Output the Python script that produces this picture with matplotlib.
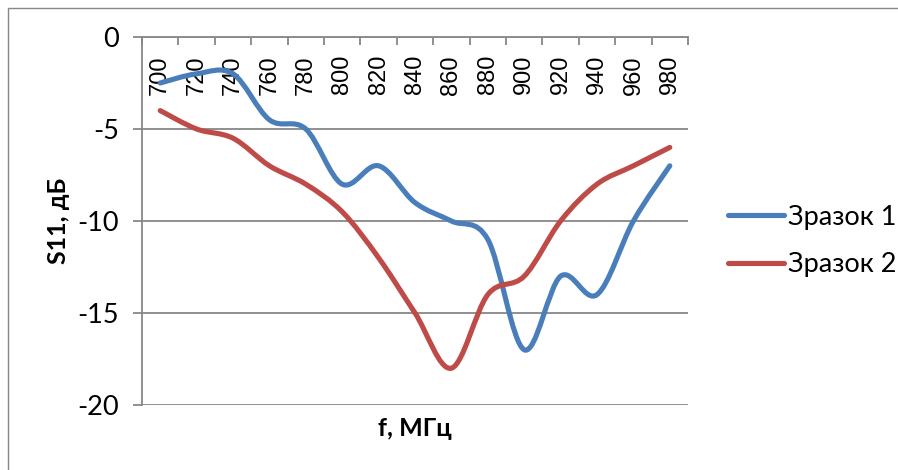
import numpy as np
import matplotlib
matplotlib.use('Agg')
import matplotlib.pyplot as plt
from matplotlib.path import Path
from matplotlib.patches import PathPatch, Rectangle
from matplotlib.lines import Line2D

# частота, МГц
freq = [700, 720, 740, 760, 780, 800, 820, 840, 860, 880, 900, 920, 940, 960, 980]
# S11, дБ
s11_1 = [-2.5, -2, -2, -4.5, -5, -8, -7, -9, -10, -11, -17, -13, -14, -10, -7]
s11_2 = [-4, -5, -5.5, -7, -8, -9.5, -12, -15, -18, -14, -13, -10, -8, -7, -6]
series = ['Зразок 1', 'Зразок 2']
colors = ['#4A7EBB', '#BE4B48']
yticks = [0, -5, -10, -15, -20]

txt_font = ['Lato', 'Open Sans', 'DejaVu Sans']
num_font = ['Liberation Sans', 'DejaVu Sans']
grid_c = '#878787'


def smooth_path(x, y):
    # гладкая линия как в Excel (кубические кривые Безье по соседним точкам)
    pts = np.column_stack([x, y]).astype(float)
    n = len(pts)
    verts = [pts[0]]
    codes = [Path.MOVETO]
    for i in range(n - 1):
        p0 = pts[i - 1] if i > 0 else pts[i]
        p1 = pts[i]
        p2 = pts[i + 1]
        p3 = pts[i + 2] if i + 2 < n else pts[i + 1]
        c1 = p1 + (p2 - p0) / 6.0
        c2 = p2 - (p3 - p1) / 6.0
        verts += [c1, c2, p2]
        codes += [Path.CURVE4] * 3
    return Path(verts, codes)


W, H = 898, 470
fig = plt.figure(figsize=(W / 100, H / 100), dpi=100)
fig.patch.set_facecolor('white')
# рамка диаграммы
fig.patches.append(Rectangle((8 / W, -0.1), 1.1, 1 - 8 / H + 0.1, transform=fig.transFigure,
                             fill=False, edgecolor=grid_c, linewidth=1.0))

ax = fig.add_axes([142 / W, 1 - 405 / H, (688 - 142) / W, (405 - 37) / H])
xpos = np.arange(len(freq)) + 0.5

for yv, name, c in zip([s11_1, s11_2], series, colors):
    patch = PathPatch(smooth_path(xpos, yv), fill=False, edgecolor=c, linewidth=3.7,
                      capstyle='round', joinstyle='round', zorder=3)
    ax.add_patch(patch)

ax.set_xlim(0, len(freq))
ax.set_ylim(-20, 0)

ax.set_yticks(yticks)
ax.set_yticklabels([str(v) for v in yticks], fontfamily=txt_font, fontsize=19.5)
ax.yaxis.grid(True, color=grid_c, linewidth=1.3)
ax.set_axisbelow(True)

# ось категорий проходит по нулю
ax.spines['bottom'].set_position(('data', 0))
ax.spines['top'].set_visible(False)
ax.spines['right'].set_visible(False)
for s in ['left', 'bottom']:
    ax.spines[s].set_color(grid_c)
    ax.spines[s].set_linewidth(1.3)

ax.set_xticks(np.arange(len(freq) + 1))
ax.set_xticklabels([])
ax.set_xticks(xpos, minor=True)
ax.set_xticklabels([str(f) for f in freq], minor=True, rotation=90,
                   fontfamily=num_font, fontsize=17)
for lbl in ax.get_xticklabels(minor=True):
    lbl.set_verticalalignment('top')
    lbl.set_horizontalalignment('center')
ax.tick_params(axis='x', which='major', direction='out', length=6, width=1.3, color=grid_c)
ax.tick_params(axis='x', which='minor', length=0, pad=13)
ax.tick_params(axis='y', direction='out', length=6.5, width=1.3, color=grid_c, pad=10)

fig.text(58 / W, 1 - 221 / H, 'S11, дБ', rotation=90, ha='center', va='center',
         fontfamily=txt_font, fontsize=18, fontweight='bold')
fig.text(415 / W, 1 - 428 / H, 'f, МГц', ha='center', va='center',
         fontfamily=txt_font, fontsize=18, fontweight='bold')

handles = [Line2D([], [], color=c, linewidth=3.7, solid_capstyle='round') for c in colors]
leg = fig.legend(handles, series, loc='center left', bbox_to_anchor=(728 / W, 1 - 241 / H),
                 frameon=False, borderpad=0, borderaxespad=0, handlelength=2.05,
                 handletextpad=0.15, labelspacing=0.84,
                 prop={'family': txt_font, 'size': 19.5})

fig.savefig('out.png', dpi=100)
